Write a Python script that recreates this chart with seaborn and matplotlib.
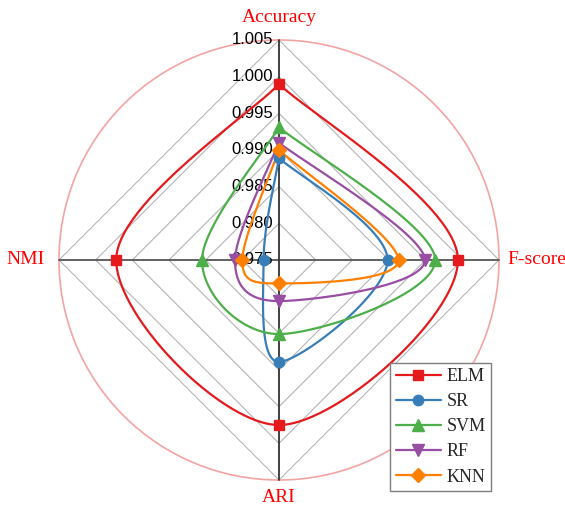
import numpy as np
import pandas as pd
import seaborn as sns
import matplotlib.pyplot as plt
from matplotlib.lines import Line2D
from matplotlib.patches import Circle

# Metric axes, in drawing order (clockwise from the top)
metrics = ["Accuracy", "F-score", "ARI", "NMI"]
models = ["ELM", "SR", "SVM", "RF", "KNN"]

elm = [0.9990, 0.9994, 0.9975, 0.9972]
sr = [0.9889, 0.9898, 0.9889, 0.9771]
svm = [0.9931, 0.9963, 0.9851, 0.9855]
rf = [0.9910, 0.9949, 0.9806, 0.9810]
knn = [0.9900, 0.9913, 0.9782, 0.9800]

tick_values = [0.975, 0.980, 0.985, 0.990, 0.995, 1.000, 1.005]
tick_labels = ["0.975", "0.980", "0.985", "0.990", "0.995", "1.000", "1.005"]

colors = ["#e41a1c", "#377eb8", "#4daf4a", "#984ea3", "#ff7f00"]
markers = ["s", "o", "^", "v", "D"]
msizes = [7, 7.5, 8, 8, 7]

vmin, vmax = tick_values[0], tick_values[-1]
angles = np.deg2rad([90, 0, -90, 180])


def to_xy(vals):
    r = (np.asarray(vals) - vmin) / (vmax - vmin)
    return r * np.cos(angles), r * np.sin(angles)


def smooth(px, py, n=60):
    """Open Catmull-Rom style smoothing through the given points."""
    pts = np.column_stack([px, py])
    out = []
    m = len(pts)
    for i in range(m - 1):
        p0 = pts[i - 1] if i > 0 else pts[i]
        p1, p2 = pts[i], pts[i + 1]
        p3 = pts[i + 2] if i + 2 < m else pts[i + 1]
        c1 = p1 + (p2 - p0) / 6.0
        c2 = p2 - (p3 - p1) / 6.0
        t = np.linspace(0, 1, n)[:, None]
        seg = ((1 - t) ** 3) * p1 + 3 * ((1 - t) ** 2) * t * c1 + 3 * (1 - t) * t ** 2 * c2 + t ** 3 * p2
        out.append(seg if i == 0 else seg[1:])
    return np.vstack(out)


sns.set_style("white")
plt.rcParams["font.family"] = ["Liberation Serif", "DejaVu Serif"]

fig = plt.figure(figsize=(5.65, 5.08), dpi=100)
ax = fig.add_axes([0, 0, 1, 1])
ax.set_xlim(-279 / 220, 286 / 220)
ax.set_ylim(-248 / 220, 260 / 220)
ax.axis("off")

# Outer ring
ax.add_patch(Circle((0, 0), 1.0, fill=False, edgecolor="#f4a3a3", lw=1.2, zorder=1))

# Diamond grid for every tick level
for tv in tick_values[1:]:
    r = (tv - vmin) / (vmax - vmin)
    ax.plot([0, r, 0, -r, 0], [r, 0, -r, 0, r], color="#b5b5b5", lw=0.8, zorder=1)

# Spokes
ax.plot([-1, 1], [0, 0], color="#555555", lw=1.3, zorder=2)
ax.plot([0, 0], [-1, 1], color="#333333", lw=1.3, zorder=2)

# Tick labels along the upper spoke
for tv, tl in zip(tick_values, tick_labels):
    r = (tv - vmin) / (vmax - vmin)
    ax.text(-0.025, r, tl, ha="right", va="center", fontsize=12,
            family=["Liberation Sans", "DejaVu Sans"], color="black", zorder=3)

# Axis titles
ax.text(0, 243 / 220, metrics[0], ha="center", va="center", fontsize=14, color="#ff0000")
ax.text(228 / 220, 0, metrics[1], ha="left", va="center", fontsize=14, color="#ff0000")
ax.text(0, -237 / 220, metrics[2], ha="center", va="center", fontsize=14, color="#ff0000")
ax.text(-234 / 220, 0, metrics[3], ha="right", va="center", fontsize=14, color="#ff0000")

series = [elm, sr, svm, rf, knn]
handles = []
for name, vals, c, mk, ms in zip(models, series, colors, markers, msizes):
    px, py = to_xy(vals)
    # close the loop back to the top axis
    cx = np.append(px, px[0])
    cy = np.append(py, py[0])
    curve = smooth(cx, cy)
    df = pd.DataFrame({"x": curve[:, 0], "y": curve[:, 1]})
    sns.lineplot(data=df, x="x", y="y", sort=False, estimator=None, color=c,
                 lw=1.6, ax=ax, zorder=4)
    ax.plot(px, py, linestyle="none", marker=mk, color=c, markersize=ms, zorder=5)
    handles.append(Line2D([0], [0], color=c, lw=1.6, marker=mk, markersize=ms, label=name))

leg = ax.legend(handles=handles, loc="lower right",
                bbox_to_anchor=(491 / 565, 1 - 491 / 508), bbox_transform=fig.transFigure,
                fontsize=13, frameon=True, fancybox=False, framealpha=1,
                edgecolor="#7f7f7f", handlelength=2.5, labelspacing=0.45,
                handletextpad=0.3, borderpad=0.3, borderaxespad=0)
leg.get_frame().set_linewidth(1.0)

fig.savefig("out.png", dpi=100)
